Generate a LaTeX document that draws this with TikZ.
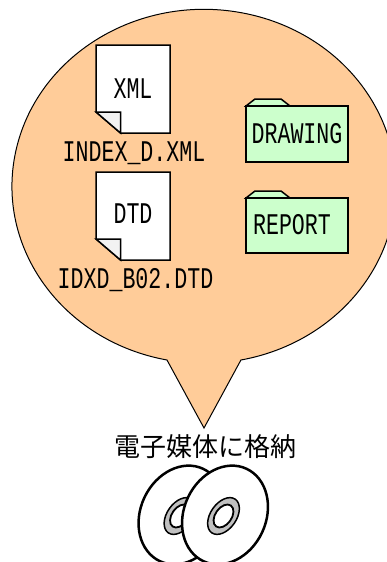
\documentclass[tikz,border=0pt]{standalone}
\usepackage{fontspec}
\newfontfamily\gothlatin[FakeStretch=0.72]{Liberation Mono}
\newfontfamily\gothjp{Noto Sans CJK JP}
\definecolor{bubble}{RGB}{255,204,153}
\definecolor{folderfill}{RGB}{204,255,204}
\definecolor{hubgray}{RGB}{192,192,192}
\definecolor{foldgray}{RGB}{242,242,242}
\tikzset{
  bubbleshape/.style={draw=black,line width=1pt,fill=bubble},
  docshape/.style={draw=black,line width=1.5pt,fill=white,line join=miter},
  foldshape/.style={draw=black,line width=1.5pt,fill=foldgray,line join=miter},
  foldershape/.style={draw=black,line width=1.5pt,fill=folderfill,line join=miter},
  label/.style={inner sep=0pt,font=\gothlatin\fontsize{30}{30}\selectfont,text=black},
  jplabel/.style={inner sep=0pt,font=\gothjp\fontsize{26}{26}\selectfont,text=black},
  discshape/.style={draw=black,line width=2.5pt,fill=white},
  hubshape/.style={draw=black,line width=1.5pt,fill=hubgray},
  holeshape/.style={draw=black,line width=1.8pt,fill=white}
}
\begin{document}
\begin{tikzpicture}[x=1pt,y=-1pt]
\useasboundingbox (0,0) rectangle (387,562);
\clip (0,0) rectangle (387,562);
% speech bubble
\draw[bubbleshape] (167,360) arc[start angle=101.1,end angle=438.9,x radius=192pt,y radius=-177pt] -- (204,428) -- cycle;
% documents
\draw[docshape] (96,45) -- (170,45) -- (170,133) -- (120.5,133) -- (96,112) -- cycle;
\draw[foldshape] (96,112) -- (120.5,112) -- (120.5,133) -- cycle;
\node[label] (xmltag) at (133,89) {XML};
\node[label] (xmlname) at (134,153) {INDEX\_D.XML};
\draw[docshape] (96,172) -- (170,172) -- (170,260) -- (120.5,260) -- (96,239) -- cycle;
\draw[foldshape] (96,239) -- (120.5,239) -- (120.5,260) -- cycle;
\node[label] (dtdtag) at (133,214) {DTD};
\node[label] (dtdname) at (135.5,280) {IDXD\_B02.DTD};
% folders
\draw[foldershape] (246,106) -- (255,99) -- (281,99) -- (290,106) -- cycle;
\draw[foldershape] (246,106) rectangle (348,162);
\node[label] (drawing) at (297,134) {DRAWING};
\draw[foldershape] (246,198) -- (255,191) -- (281,191) -- (290,198) -- cycle;
\draw[foldershape] (246,198) rectangle (348,253);
\node[label] (report) at (292,225) {REPORT};
% caption
\node[jplabel] (caption) at (205,447) {電子媒体に格納};
% discs
\draw[discshape] (181.5,515) ellipse[x radius=41pt,y radius=51pt,rotate=-25];
\draw[hubshape] (180,516) ellipse[x radius=13pt,y radius=20.5pt,rotate=-35];
\draw[holeshape] (180,516) ellipse[x radius=8.2pt,y radius=12.8pt,rotate=-35];
\draw[discshape] (225,515) ellipse[x radius=41pt,y radius=51pt,rotate=-25];
\draw[hubshape] (223.5,516) ellipse[x radius=13pt,y radius=20.5pt,rotate=-35];
\draw[holeshape] (223.5,516) ellipse[x radius=8.2pt,y radius=12.8pt,rotate=-35];
\end{tikzpicture}
\end{document}
